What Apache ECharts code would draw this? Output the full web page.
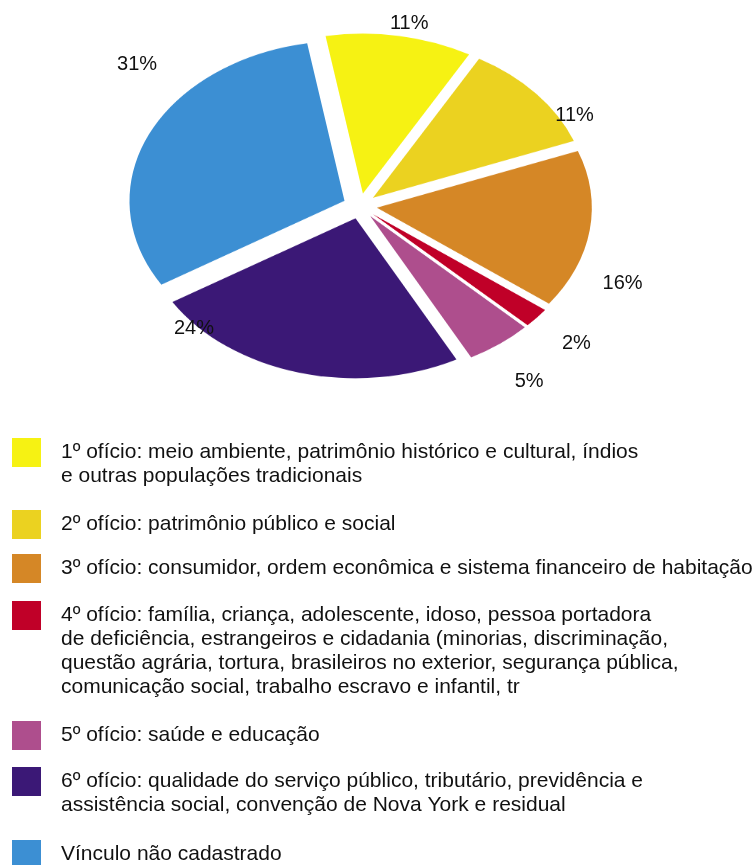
<!DOCTYPE html>
<html><head><meta charset="utf-8">
<script src="https://cdn.jsdelivr.net/npm/echarts@6/dist/echarts.min.js"></script>
<style>
html,body{margin:0;padding:0;background:#fff;}
#wrap{position:relative;width:755px;height:865px;overflow:hidden;background:#fff;}
#pie{position:absolute;left:0;top:-29.5px;width:755px;height:470px;transform:scaleY(0.744);transform-origin:0 235px;}
#main{position:absolute;left:0;top:0;width:755px;height:865px;}
</style></head><body>
<div id="wrap"><div id="pie"></div><div id="main"></div></div>
<script>
// ---- data ----
const categories = [
  "1º ofício: meio ambiente, patrimônio histórico e cultural, índios\ne outras populações tradicionais",
  "2º ofício: patrimônio público e social",
  "3º ofício: consumidor, ordem econômica e sistema financeiro de habitação",
  "4º ofício: família, criança, adolescente, idoso, pessoa portadora\nde deficiência, estrangeiros e cidadania (minorias, discriminação,\nquestão agrária, tortura, brasileiros no exterior, segurança pública,\ncomunicação social, trabalho escravo e infantil, tr",
  "5º ofício: saúde e educação",
  "6º ofício: qualidade do serviço público, tributário, previdência e\nassistência social, convenção de Nova York e residual",
  "Vínculo não cadastrado"
];
const shares = [11, 11, 16, 2, 5, 24, 31];
const colors = ["#F6F213", "#EBD220", "#D58726", "#C00028", "#AE4E8D", "#3B1876", "#3C8FD3"];

// ---- layout / style (not data) ----
const FONT = "'Liberation Sans', Arial, sans-serif";
const SQUASH = 0.744;
const CX = 360, CY = 205.5, R = 215;
const START_ANGLE = 100;
const PIE_DIV_CY = 235;
const legendIconTops = [439, 510, 554, 602, 721, 768, 840];
const labelNudge = [[-23,3],[-6,32],[-17,52],[0,16],[-7,26],[-70,-58],[37,-64]];
const LINE_H = 24;

// ---- pie sectors (squashed into an ellipse by the container) ----
const pieChart = echarts.init(document.getElementById('pie'), null, {renderer: 'canvas'});
pieChart.setOption({
  animation: false,
  series: [{
    type: 'pie',
    center: [CX, PIE_DIV_CY],
    radius: R,
    startAngle: START_ANGLE,
    clockwise: true,
    selectedMode: 'multiple',
    selectedOffset: 17,
    silent: true,
    label: {show: false},
    labelLine: {show: false},
    emphasis: {disabled: true},
    itemStyle: {borderWidth: 0},
    data: categories.map((n, i) => ({name: n, value: shares[i], selected: true, itemStyle: {color: colors[i]}}))
  }]
});

// ---- labels + legend overlay ----
const main = echarts.init(document.getElementById('main'), null, {renderer: 'canvas'});
main.setOption({
  animation: false,
  legend: categories.map((n, i) => {
    const lines = n.split('\n').length;
    const lift = lines > 1 ? (lines - 1) * LINE_H - 1.5 : 0;
    return {
      orient: 'vertical',
      left: 12,
      top: legendIconTops[i] - lift,
      padding: 0,
      itemGap: 0,
      itemWidth: 29,
      itemHeight: 29,
      icon: 'rect',
      selectedMode: false,
      formatter: function (name) { return '\n'.repeat(lines - 1) + name; },
      textStyle: {fontSize: 21, lineHeight: LINE_H, color: '#111', fontFamily: FONT, padding: [0, 0, 0, 15]},
      data: [{name: n, itemStyle: {color: colors[i], borderWidth: 0}}]
    };
  }),
  series: [{
    type: 'pie',
    center: [CX, CY],
    radius: R,
    startAngle: START_ANGLE,
    clockwise: true,
    silent: true,
    avoidLabelOverlap: false,
    itemStyle: {color: 'rgba(0,0,0,0)', borderWidth: 0},
    emphasis: {disabled: true},
    label: {show: true, position: 'outside', formatter: '{c}%', fontSize: 20, color: '#111', fontFamily: FONT},
    labelLine: {show: false, length: 37, length2: 5},
    labelLayout: function (p) {
      const r = p.labelRect;
      const ax = p.align === 'right' ? r.x + r.width : (p.align === 'center' ? r.x + r.width / 2 : r.x);
      const ay = r.y + r.height / 2;
      const nd = labelNudge[p.dataIndex];
      return {x: ax + nd[0], y: CY + (ay - CY) * SQUASH + nd[1]};
    },
    data: categories.map((n, i) => ({name: n, value: shares[i]}))
  }]
});
</script>
</body></html>
